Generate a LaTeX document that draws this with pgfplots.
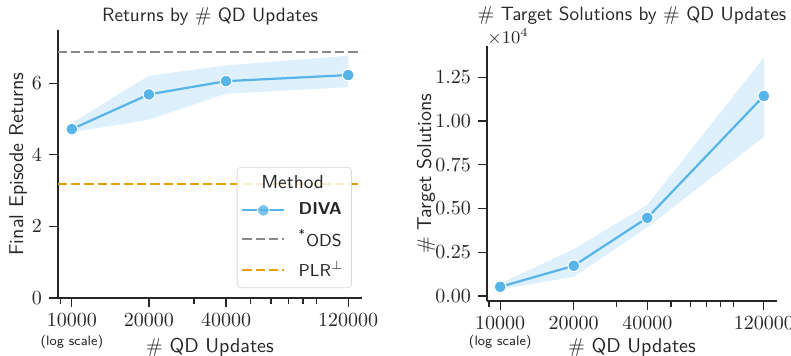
\documentclass[border=0pt]{standalone}
\usepackage{pgfplots}
\pgfplotsset{compat=1.18}
\renewcommand{\familydefault}{\sfdefault}
\definecolor{diva}{HTML}{56B4E9}
\definecolor{ods}{HTML}{8A8A8A}
\definecolor{plr}{HTML}{E69F00}
\definecolor{axc}{HTML}{262626}
\begin{document}
\begin{tikzpicture}
\useasboundingbox (0,0) rectangle (395.5pt,178pt);
% ---------------- left panel ----------------
\begin{axis}[
  scale only axis, xmode=log, xmin=8830, xmax=135900,
  clip mode=individual, every axis title shift=0pt,
  axis x line*=bottom, axis y line*=left,
  axis line style={-, axc, line width=0.7pt},
  tick align=outside, major tick length=4.5pt, minor tick length=2.8pt,
  every tick/.style={axc, line width=0.6pt},
  xtick={10000,20000,40000,120000},
  xticklabels={$10000$,$20000$,$40000$,$120000$},
  minor xtick={9000,30000,50000,60000,70000,80000,90000},
  tick label style={font=\fontsize{10}{12}\selectfont, text=axc},
  label style={font=\fontsize{10}{12}\selectfont, text=axc},
  xlabel={$\#$ QD Updates},
  at={(29pt,29pt)}, anchor=south west, width=152pt, height=134pt,
  ymin=0, ymax=7.49, ytick={0,2,4,6},
  title={Returns by $\#$ QD Updates},
  title style={font=\fontsize{9.6}{12}\selectfont, text=axc, anchor=base, at={([yshift=4.2pt]axis description cs:0.5,1)}},
  ylabel={Final Episode Returns},
  ylabel style={at={([xshift=-20pt]axis description cs:0,0.5)}, anchor=center},
  xlabel style={at={([yshift=-27.3pt]axis description cs:0.5,0)}, anchor=base},
  legend cell align=left,
  legend image code/.code={\draw[mark repeat=2,mark phase=2] plot coordinates {(0cm,0cm) (0.37cm,0cm) (0.74cm,0cm)};},
  legend style={at={(0.967,0.037)}, anchor=south east, fill=white, fill opacity=0.8,
    draw opacity=1, text opacity=1, draw=black!15, rounded corners=2pt,
    font=\fontsize{8.6}{10}\selectfont, text=axc, row sep=1.8pt, inner xsep=2pt, inner ysep=2pt,
    /tikz/every odd column/.append style={column sep=4.5pt}},
]
\addplot[fill=diva, fill opacity=0.2, draw=none, forget plot] coordinates {(10000,4.89) (20000,6.21) (40000,6.50) (120000,6.77) (120000,5.89) (40000,5.71) (20000,4.98) (10000,4.63)} -- cycle;
\addlegendimage{empty legend}
\addlegendentry{\hspace{-3pt}\makebox[0pt]{\fontsize{9.4}{10}\selectfont Method}}
\addplot[diva, line width=1.1pt, mark=*, mark size=2.9pt, mark options={fill=diva, draw=white, line width=0.5pt}] coordinates {(10000,4.72) (20000,5.69) (40000,6.06) (120000,6.23)};
\addlegendentry{\textbf{DIVA}}
\addplot[ods, line width=1.2pt, dash pattern=on 4.6pt off 2pt] coordinates {(8830,6.88) (135900,6.88)};
\addlegendentry{\textsuperscript{*}ODS}
\addplot[plr, line width=1.2pt, dash pattern=on 4.6pt off 2pt] coordinates {(8830,3.18) (135900,3.18)};
\addlegendentry{PLR$^{\perp}$}
\node[anchor=base, font=\fontsize{6.8}{8}\selectfont, text=axc] at ([yshift=-24pt]axis cs:10000,0) {(log scale)};
\end{axis}
% ---------------- right panel ----------------
\begin{axis}[
  scale only axis, xmode=log, xmin=8830, xmax=135900,
  clip mode=individual, every axis title shift=0pt,
  axis x line*=bottom, axis y line*=left,
  axis line style={-, axc, line width=0.7pt},
  tick align=outside, major tick length=4.5pt, minor tick length=2.8pt,
  every tick/.style={axc, line width=0.6pt},
  xtick={10000,20000,40000,120000},
  xticklabels={$10000$,$20000$,$40000$,$120000$},
  minor xtick={9000,30000,50000,60000,70000,80000,90000},
  tick label style={font=\fontsize{10}{12}\selectfont, text=axc},
  label style={font=\fontsize{10}{12}\selectfont, text=axc},
  xlabel={$\#$ QD Updates},
  at={(243.5pt,27.5pt)}, anchor=south west, width=145pt, height=127.5pt,
  ymin=-280, ymax=14280, ytick={0,2500,5000,7500,10000,12500},
  scaled y ticks=base 10:-4,
  yticklabel style={/pgf/number format/fixed, /pgf/number format/fixed zerofill, /pgf/number format/precision=2},
  ytick scale label code/.code={$\times 10^{4}$},
  every y tick scale label/.style={at={(rel axis cs:0,1)}, anchor=base west, yshift=1pt, inner sep=0pt, font=\fontsize{9.2}{11}\selectfont, text=axc},
  title={$\#$ Target Solutions by $\#$ QD Updates},
  title style={font=\fontsize{9.6}{12}\selectfont, text=axc, anchor=base, at={([yshift=12.6pt]axis description cs:0.5,1)}},
  ylabel={$\#$ Target Solutions},
  ylabel style={at={([xshift=-30.5pt]axis description cs:0,0.5)}, anchor=center},
  xlabel style={at={([yshift=-25.8pt]axis description cs:0.5,0)}, anchor=base},
]
\addplot[fill=diva, fill opacity=0.2, draw=none, forget plot] coordinates {(10000,720) (20000,2680) (40000,5200) (120000,13620) (120000,9090) (40000,3920) (20000,1100) (10000,380)} -- cycle;
\addplot[diva, line width=1.1pt, mark=*, mark size=2.9pt, mark options={fill=diva, draw=white, line width=0.5pt}] coordinates {(10000,530) (20000,1730) (40000,4470) (120000,11430)};
\node[anchor=base, font=\fontsize{6.8}{8}\selectfont, text=axc] at ([yshift=-22.5pt]axis cs:10000,-280) {(log scale)};
\end{axis}
\end{tikzpicture}
\end{document}
